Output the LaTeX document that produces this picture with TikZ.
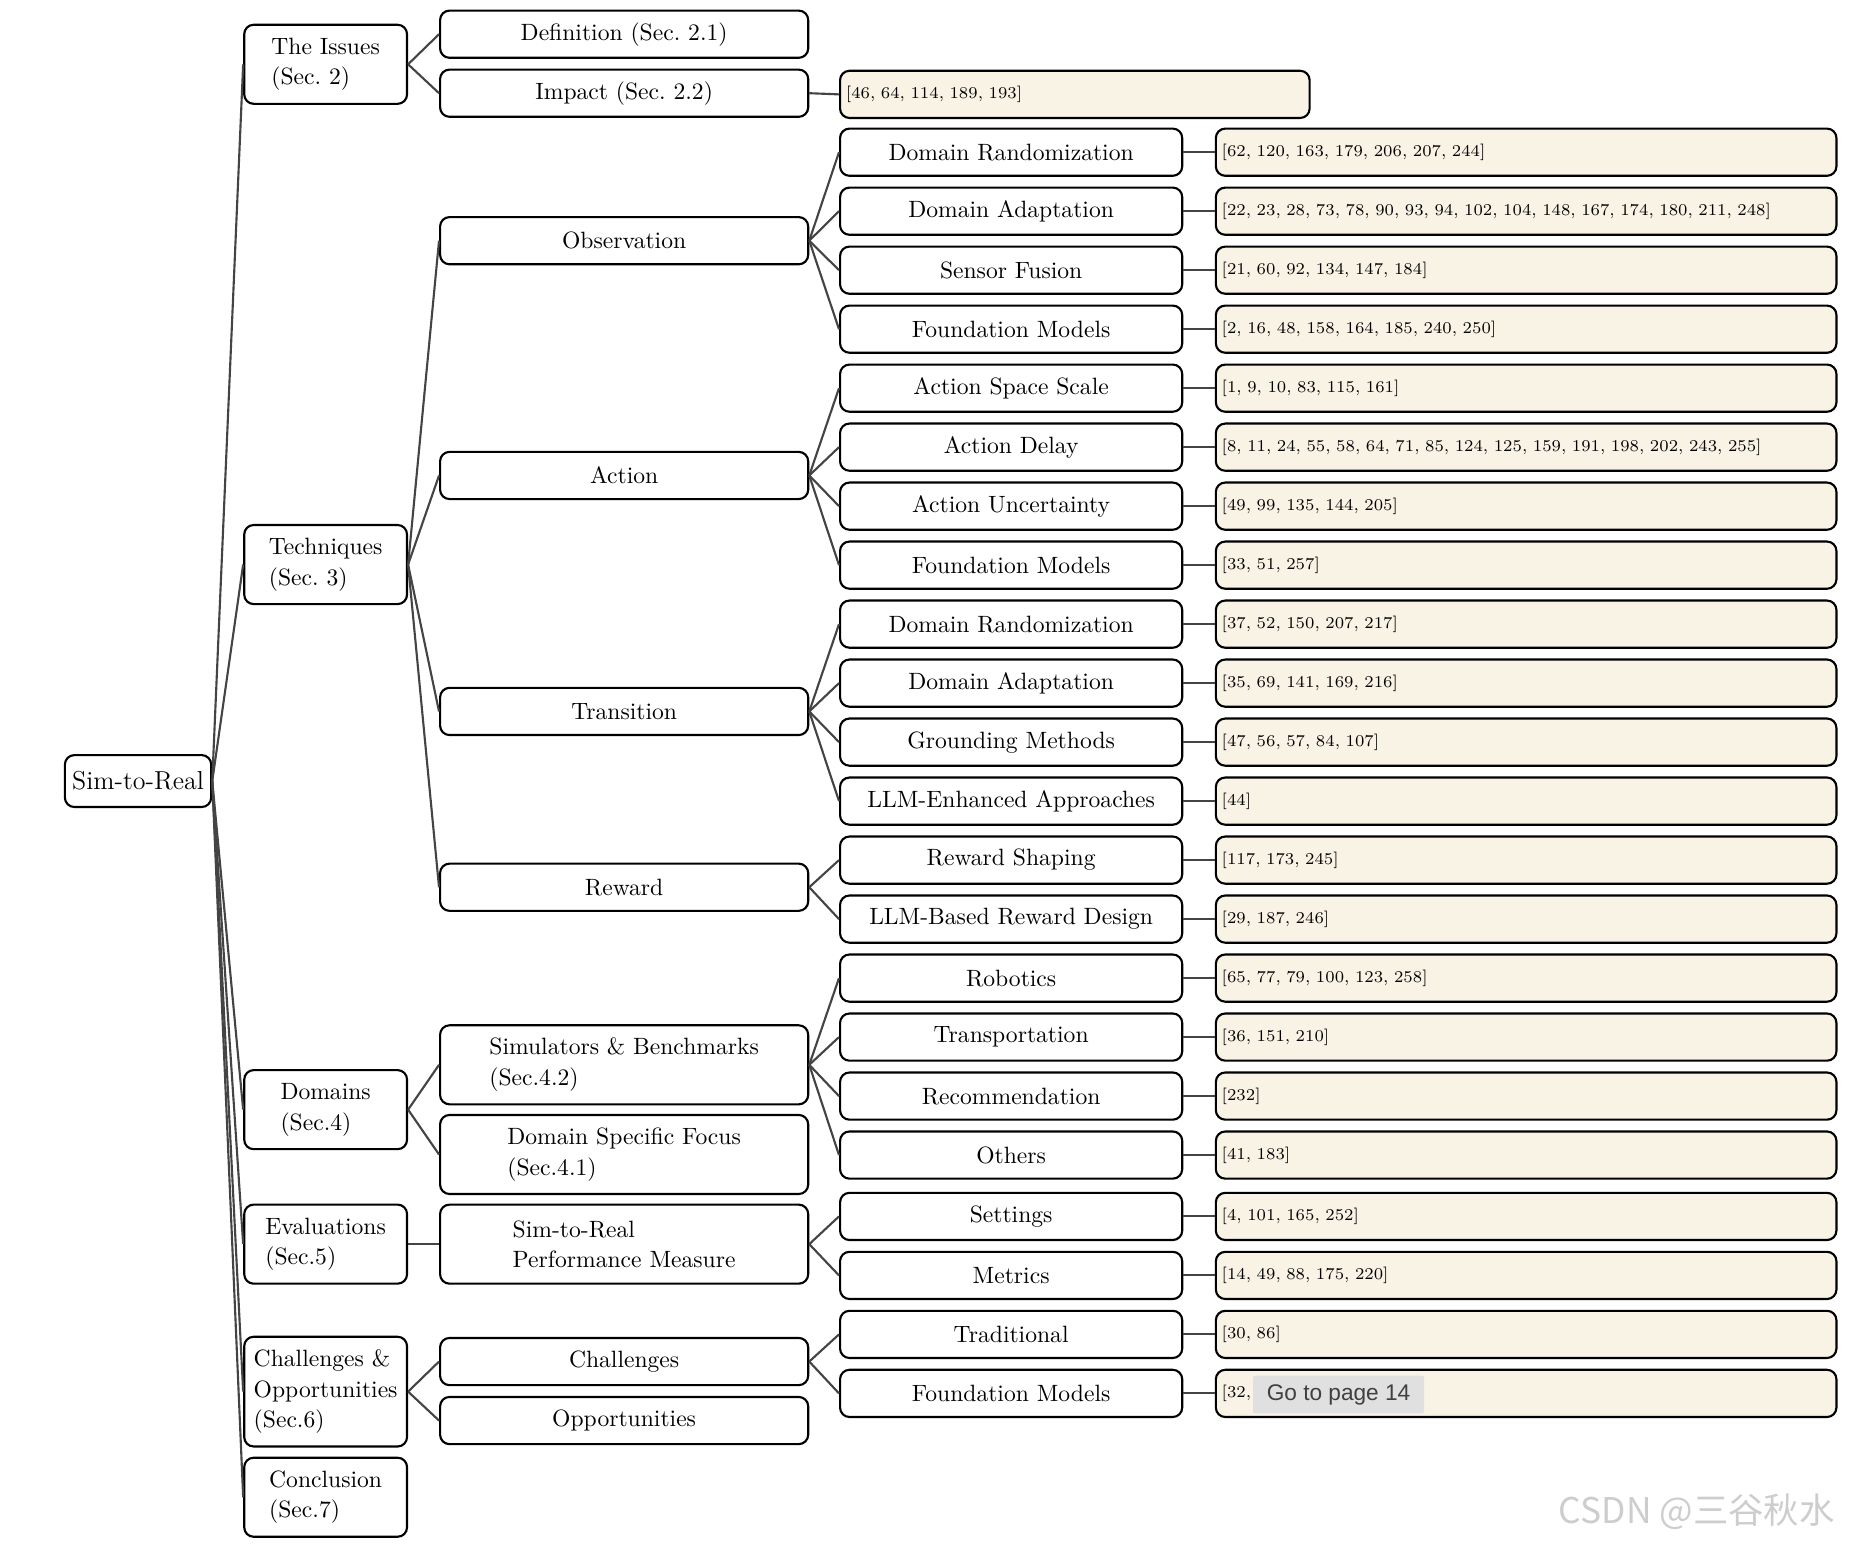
\documentclass[tikz,border=0pt]{standalone}
\usepackage{fontspec}
\usepackage{tikz}
\usetikzlibrary{positioning}
\newfontfamily\uifont{Liberation Sans}
\newfontfamily\cjkfont{Noto Sans CJK SC}
\definecolor{refcream}{RGB}{249,243,230}
\definecolor{linkgray}{RGB}{68,68,68}
\definecolor{tipgray}{RGB}{224,224,224}
\definecolor{markgray}{RGB}{205,205,205}
\frenchspacing

\begin{document}
\begin{tikzpicture}[
    x=0.5pt, y=-0.5pt,
    box/.style={draw,line width=0.9pt,rounded corners=4pt,fill=white,inner sep=0pt,align=left,font=\fontsize{10}{13}\selectfont},
    rootbox/.style={box,minimum width=62pt,minimum height=22pt,font=\fontsize{11}{13}\selectfont},
    secbox/.style={box,minimum width=69pt,minimum height=33.5pt},
    topicbox/.style={box,minimum width=156pt,minimum height=20pt},
    leafbox/.style={box,minimum width=145pt,minimum height=20pt,align=center},
    refbox/.style={box,fill=refcream,text width=258pt,minimum height=20pt,inner xsep=2.5pt,font=\fontsize{7}{9}\selectfont},
    link/.style={draw=linkgray,line width=0.9pt}
]
\useasboundingbox (0,0) rectangle (1568,1309);
% root and sections
\node[rootbox] (root) at (117,662) {Sim-to-Real};
\node[secbox] (issues) at (276,54.5) {The Issues\\(Sec. 2)};
\node[secbox] (tech) at (276,478.5) {Techniques\\(Sec. 3)};
\node[secbox] (domains) at (276,940.5) {Domains\\(Sec.4)};
\node[secbox] (evals) at (276,1054.5) {Evaluations\\(Sec.5)};
\node[secbox,minimum height=46.5pt] (chal) at (276,1179.5) {Challenges \&\\Opportunities\\(Sec.6)};
\node[secbox] (concl) at (276,1269) {Conclusion\\(Sec.7)};
% topics
\node[topicbox] (def) at (529,29) {Definition (Sec. 2.1)};
\node[topicbox] (impact) at (529,79) {Impact (Sec. 2.2)};
\node[topicbox] (obs) at (529,204) {Observation};
\node[topicbox] (act) at (529,403) {Action};
\node[topicbox] (trans) at (529,603) {Transition};
\node[topicbox] (rew) at (529,752) {Reward};
\node[topicbox,minimum height=33.5pt] (sims) at (529,902.5) {Simulators \& Benchmarks\\(Sec.4.2)};
\node[topicbox,minimum height=33.5pt] (dsf) at (529,978.5) {Domain Specific Focus\\(Sec.4.1)};
\node[topicbox,minimum height=33.5pt] (perf) at (529,1054.5) {Sim-to-Real\\Performance Measure};
\node[topicbox] (chl) at (529,1154) {Challenges};
\node[topicbox] (opp) at (529,1204) {Opportunities};
\node[refbox,text width=194pt] (impactref) at (911,80) {[46, 64, 114, 189, 193]};
% leaves
\node[leafbox] (obsdr) at (857,129) {Domain Randomization};
\node[leafbox] (obsda) at (857,179) {Domain Adaptation};
\node[leafbox] (obssf) at (857,229) {Sensor Fusion};
\node[leafbox] (obsfm) at (857,279) {Foundation Models};
\node[leafbox] (actss) at (857,329) {Action Space Scale};
\node[leafbox] (actdl) at (857,379) {Action Delay};
\node[leafbox] (actun) at (857,429) {Action Uncertainty};
\node[leafbox] (actfm) at (857,479) {Foundation Models};
\node[leafbox] (trdr) at (857,529) {Domain Randomization};
\node[leafbox] (trda) at (857,579) {Domain Adaptation};
\node[leafbox] (trgm) at (857,629) {Grounding Methods};
\node[leafbox] (trllm) at (857,679) {LLM-Enhanced Approaches};
\node[leafbox] (rwsh) at (857,729) {Reward Shaping};
\node[leafbox] (rwllm) at (857,779) {LLM-Based Reward Design};
\node[leafbox] (dmrob) at (857,829) {Robotics};
\node[leafbox] (dmtr) at (857,879) {Transportation};
\node[leafbox] (dmrec) at (857,929) {Recommendation};
\node[leafbox] (dmoth) at (857,979) {Others};
\node[leafbox] (evset) at (857,1031) {Settings};
\node[leafbox] (evmet) at (857,1081) {Metrics};
\node[leafbox] (chtrad) at (857,1131) {Traditional};
\node[leafbox] (chfm) at (857,1181) {Foundation Models};
% references
\node[refbox] (obsdrref) at (1293.5,129) {[62, 120, 163, 179, 206, 207, 244]};
\node[refbox] (obsdaref) at (1293.5,179) {[22, 23, 28, 73, 78, 90, 93, 94, 102, 104, 148, 167, 174, 180, 211, 248]};
\node[refbox] (obssfref) at (1293.5,229) {[21, 60, 92, 134, 147, 184]};
\node[refbox] (obsfmref) at (1293.5,279) {[2, 16, 48, 158, 164, 185, 240, 250]};
\node[refbox] (actssref) at (1293.5,329) {[1, 9, 10, 83, 115, 161]};
\node[refbox] (actdlref) at (1293.5,379) {[8, 11, 24, 55, 58, 64, 71, 85, 124, 125, 159, 191, 198, 202, 243, 255]};
\node[refbox] (actunref) at (1293.5,429) {[49, 99, 135, 144, 205]};
\node[refbox] (actfmref) at (1293.5,479) {[33, 51, 257]};
\node[refbox] (trdrref) at (1293.5,529) {[37, 52, 150, 207, 217]};
\node[refbox] (trdaref) at (1293.5,579) {[35, 69, 141, 169, 216]};
\node[refbox] (trgmref) at (1293.5,629) {[47, 56, 57, 84, 107]};
\node[refbox] (trllmref) at (1293.5,679) {[44]};
\node[refbox] (rwshref) at (1293.5,729) {[117, 173, 245]};
\node[refbox] (rwllmref) at (1293.5,779) {[29, 187, 246]};
\node[refbox] (dmrobref) at (1293.5,829) {[65, 77, 79, 100, 123, 258]};
\node[refbox] (dmtrref) at (1293.5,879) {[36, 151, 210]};
\node[refbox] (dmrecref) at (1293.5,929) {[232]};
\node[refbox] (dmothref) at (1293.5,979) {[41, 183]};
\node[refbox] (evsetref) at (1293.5,1031) {[4, 101, 165, 252]};
\node[refbox] (evmetref) at (1293.5,1081) {[14, 49, 88, 175, 220]};
\node[refbox] (chtradref) at (1293.5,1131) {[30, 86]};
\node[refbox] (chfmref) at (1293.5,1181) {[32,};
% connectors
\foreach \s in {issues,tech,domains,evals,chal,concl}
  \draw[link] (root.east) -- (\s.west);
\draw[link] (issues.east) -- (def.west);
\draw[link] (issues.east) -- (impact.west);
\draw[link] (impact.east) -- (impactref.west);
\foreach \t in {obs,act,trans,rew}
  \draw[link] (tech.east) -- (\t.west);
\draw[link] (domains.east) -- (sims.west);
\draw[link] (domains.east) -- (dsf.west);
\draw[link] (evals.east) -- (perf.west);
\draw[link] (chal.east) -- (chl.west);
\draw[link] (chal.east) -- (opp.west);
\foreach \l in {obsdr,obsda,obssf,obsfm}
  \draw[link] (obs.east) -- (\l.west);
\foreach \l in {actss,actdl,actun,actfm}
  \draw[link] (act.east) -- (\l.west);
\foreach \l in {trdr,trda,trgm,trllm}
  \draw[link] (trans.east) -- (\l.west);
\foreach \l in {rwsh,rwllm}
  \draw[link] (rew.east) -- (\l.west);
\foreach \l in {dmrob,dmtr,dmrec,dmoth}
  \draw[link] (sims.east) -- (\l.west);
\foreach \l in {evset,evmet}
  \draw[link] (perf.east) -- (\l.west);
\foreach \l in {chtrad,chfm}
  \draw[link] (chl.east) -- (\l.west);
\foreach \l in {obsdr,obsda,obssf,obsfm,actss,actdl,actun,actfm,trdr,trda,trgm,trllm,rwsh,rwllm,dmrob,dmtr,dmrec,dmoth,evset,evmet,chtrad,chfm}
  \draw[link] (\l.east) -- (\l ref.west);
% overlay tooltip and watermark
\node[fill=tipgray,rounded corners=1pt,minimum width=72.5pt,minimum height=16pt,text=black!75,font=\uifont\fontsize{9.6}{11}\selectfont] (tip) at (1134.5,1182) {Go to page 14};
\node[anchor=east,text=markgray,font=\cjkfont\fontsize{15}{17}\selectfont] (mark) at (1562,1281) {CSDN @三谷秋水};
\end{tikzpicture}
\end{document}
